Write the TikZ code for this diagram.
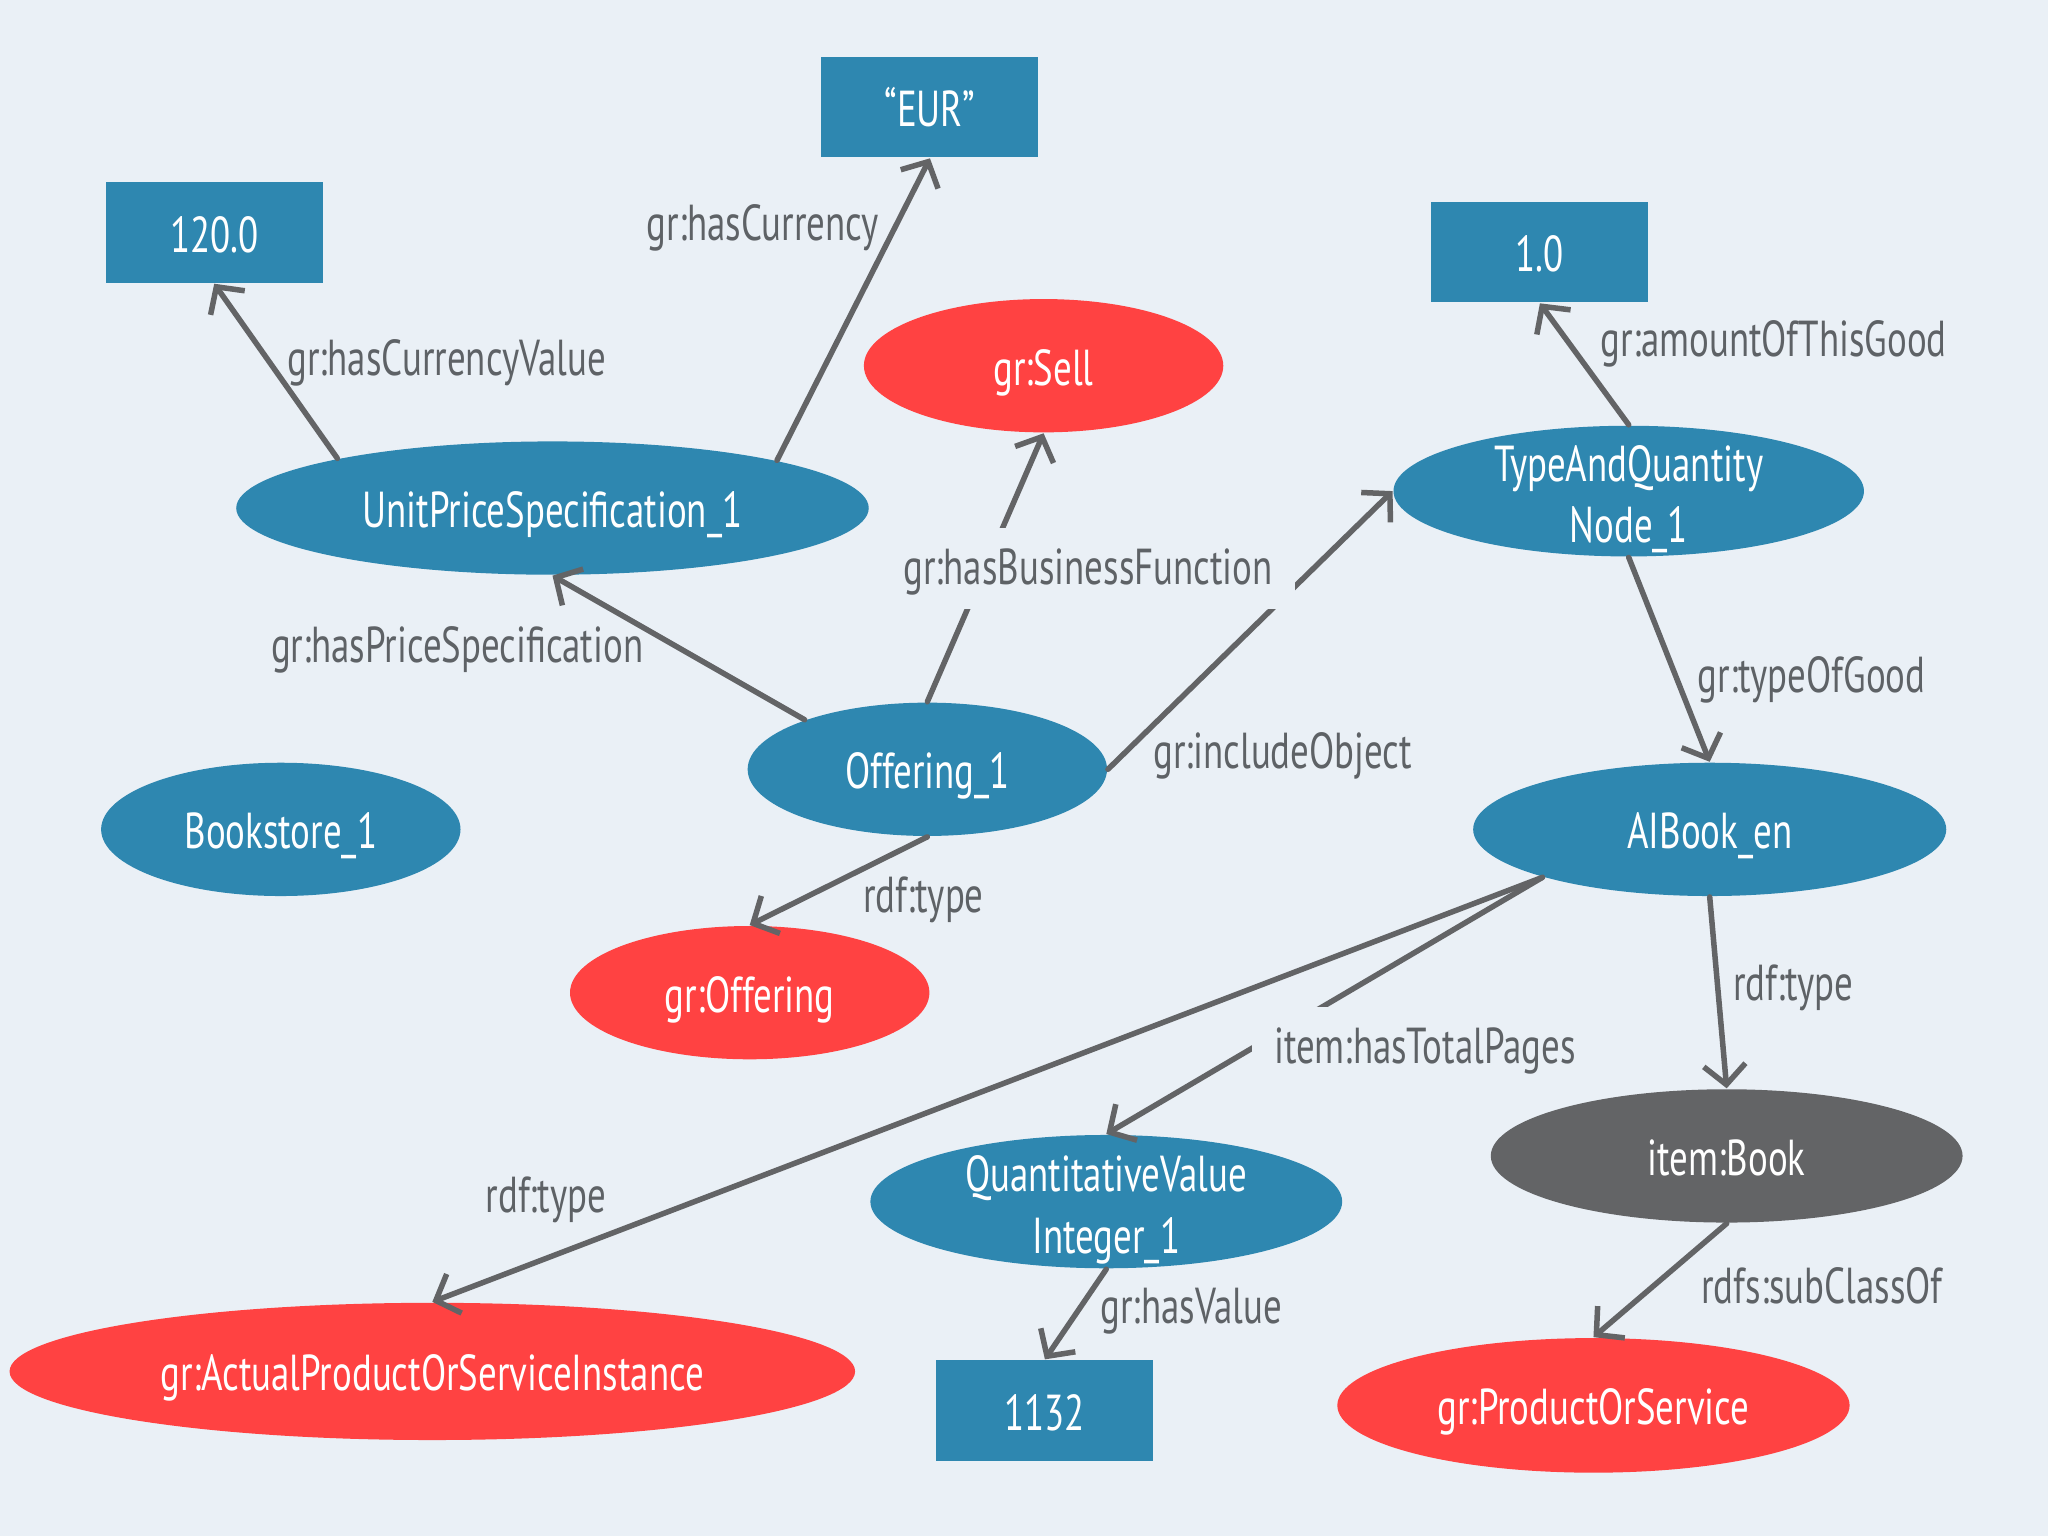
\documentclass[tikz,border=0pt]{standalone}
\usepackage{fontspec}
\setmainfont{PT Sans}[FakeStretch=0.73]
\usetikzlibrary{shapes.geometric,arrows.meta}

\definecolor{bgcol}{HTML}{EAF0F6}
\definecolor{resblue}{HTML}{2E87B0}
\definecolor{clsred}{HTML}{FF4242}
\definecolor{extgray}{HTML}{636466}
\definecolor{edgegray}{HTML}{636466}
\definecolor{lblgray}{HTML}{5E6266}

\tikzset{
  res/.style={ellipse, fill=resblue, text=white, inner sep=0pt,
    minimum width=2.75cm, minimum height=1.02cm, align=center,
    text height=0.9em, text depth=0.05em},
  twolines/.style={text height=23pt, text depth=0.6pt, inner ysep=-0.07cm},
  cls/.style={res, fill=clsred},
  ext/.style={res, fill=extgray},
  lit/.style={rectangle, fill=resblue, text=white,
    minimum width=1.66cm, minimum height=0.77cm,
    text height=0.9em, text depth=0.05em},
  lbl/.style={text=lblgray, inner sep=1pt, text height=0.75em, text depth=0.05em},
  lblcut/.style={lbl, fill=bgcol, inner sep=0.17cm},
  rel/.style={draw=edgegray, line width=1.2pt, line cap=round,
    -{Straight Barb[length=0.15cm, width=0.32cm, line width=1.2pt]}}
}

\begin{document}
\begin{tikzpicture}[x=0.01cm, y=-0.01cm, font=\fontsize{11}{13.3}\selectfont]

        \fill[bgcol] (0,0) rectangle (1568,1176);

        % Literals
        \node[lit] (eur) at (712,82) {``EUR''};
        \node[lit] (price) at (164,178) {120.0};
        \node[lit] (amount) at (1179,193) {1.0};
        \node[lit] (pages) at (800,1080) {1132};

        % Resources
        \node[res, minimum width=4.84cm] (ups) at (423,389) {UnitPriceSpecification\_1};
        \node[res, twolines, minimum width=3.6cm, minimum height=1cm] (taq) at (1247,376) {TypeAndQuantity\\Node\_1};
        \node[res] (offer) at (710,589) {Offering\_1};
        \node[res] (store) at (215,635) {Bookstore\_1};
        \node[res, minimum width=3.62cm] (book) at (1309,635) {AIBook\_en};
        \node[res, twolines, minimum width=3.61cm] (qvi) at (847,920) {QuantitativeValue\\Integer\_1};

        % Classes
        \node[cls] (sell) at (799,280) {gr:Sell};
        \node[cls] (goffer) at (574,760) {gr:Offering};
        \node[ext, minimum width=3.61cm] (ibook) at (1322,885) {item:Book};
        \node[cls, minimum width=6.47cm, minimum height=1.05cm] (actual) at (331,1050) {gr:ActualProductOrServiceInstance};
        \node[cls, minimum width=3.92cm, minimum height=1.03cm] (pos) at (1220,1076) {gr:ProductOrService};

        % Properties
        \draw[rel] (ups.167.7) -- (price.south);
        \draw[rel] (ups.12.2) -- (eur.south);
        \draw[rel] (offer.158.9) -- (ups.south);
        \draw[rel] (offer.north) -- (sell.south);
        \draw[rel] (offer.east) -- (taq.west);
        \draw[rel] (offer.south) -- (goffer.north);
        \draw[rel] (taq.north) -- (amount.south);
        \draw[rel] (taq.south) -- (book.north);
        \draw[rel] (book.south) -- (ibook.north);
        \draw[rel] (book.196) -- (qvi.north);
        \draw[rel] (book.196) -- (actual.north);
        \draw[rel] (ibook.south) -- (pos.north);
        \draw[rel] (qvi.south) -- (pages.north);

        % Property labels
        \node[lbl] (lcur) at (584,172) {gr:hasCurrency};
        \node[lbl] (lcurval) at (342,275) {gr:hasCurrencyValue};
        \node[lbl] (lprice) at (350,495) {gr:hasPriceSpecification};
        \node[lblcut] (lbiz) at (833,435) {gr:hasBusinessFunction};
        \node[lbl] (lincl) at (982,576) {gr:includeObject};
        \node[lbl] (ltype) at (707,686) {rdf:type};
        \node[lbl] (lamount) at (1358,261) {gr:amountOfThisGood};
        \node[lbl] (lgood) at (1387,518) {gr:typeOfGood};
        \node[lbl] (ltypebook) at (1373,754) {rdf:type};
        \node[lblcut] (lpages) at (1091,802) {item:hasTotalPages};
        \node[lbl] (ltypeact) at (418,916) {rdf:type};
        \node[lbl] (lsub) at (1395,986) {rdfs:subClassOf};
        \node[lbl] (lval) at (912,1001) {gr:hasValue};

\end{tikzpicture}
\end{document}
